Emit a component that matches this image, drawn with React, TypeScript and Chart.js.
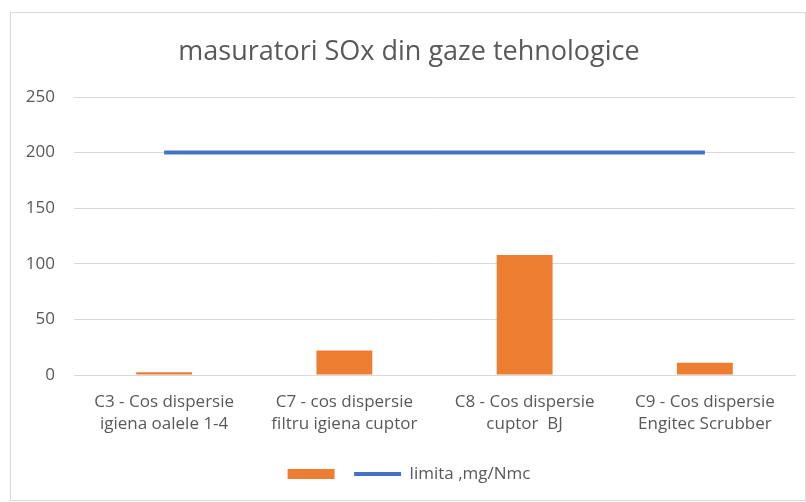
import React, { useEffect, useRef } from "react";
import { Chart, registerables } from "chart.js";

Chart.register(...registerables);

const categories: string[][] = [
  ["C3 - Cos dispersie", "igiena oalele 1-4"],
  ["C7 - cos dispersie", "filtru igiena cuptor"],
  ["C8 - Cos dispersie", "cuptor  BJ"],
  ["C9 - Cos dispersie", "Engitec Scrubber"],
];
const measuredValues: number[] = [2.5, 22, 108, 11];
const limitValues: number[] = [200, 200, 200, 200];
const measuredLabel = "";
const limitLabel = "limita ,mg/Nmc";
const titleText = "masuratori SOx din gaze tehnologice";

const ORANGE = "#ED7D31";
const BLUE = "#4472C4";
const TEXT = "#595959";
const GRID = "#d9d9d9";
const FONT = "'Open Sans', sans-serif";

export default function App() {
  const ref = useRef<HTMLCanvasElement | null>(null);

  useEffect(() => {
    if (!ref.current) return;
    const chart = new Chart(ref.current, {
      type: "bar",
      data: {
        labels: categories,
        datasets: [
          {
            type: "bar",
            label: measuredLabel,
            data: measuredValues,
            backgroundColor: ORANGE,
            borderWidth: 0,
            categoryPercentage: 0.5,
            barPercentage: 0.62,
          },
          {
            type: "line",
            label: limitLabel,
            data: limitValues,
            borderColor: BLUE,
            backgroundColor: BLUE,
            borderWidth: 4,
            pointRadius: 0,
            fill: false,
          },
        ] as any,
      },
      options: {
        animation: false,
        responsive: false,
        maintainAspectRatio: false,
        layout: { padding: { left: 12, right: 10, top: 0, bottom: 7.5 } },
        plugins: {
          title: {
            display: true,
            text: titleText,
            color: TEXT,
            font: { family: FONT, size: 27, weight: "normal", lineHeight: 1.2 },
            padding: { top: 22.8, bottom: 28.8 },
          },
          legend: {
            position: "bottom",
            labels: {
              color: TEXT,
              font: { family: FONT, size: 17 },
              usePointStyle: true,
              pointStyleWidth: 47,
              boxHeight: 10,
              padding: 11,
              generateLabels: (c: any) => {
                const ds = c.data.datasets;
                return [
                  {
                    text: ds[0].label,
                    fillStyle: ORANGE,
                    strokeStyle: ORANGE,
                    lineWidth: 0,
                    pointStyle: "rect",
                    datasetIndex: 0,
                    hidden: false,
                    fontColor: TEXT,
                  },
                  {
                    text: ds[1].label,
                    fillStyle: BLUE,
                    strokeStyle: BLUE,
                    lineWidth: 4,
                    pointStyle: "line",
                    datasetIndex: 1,
                    hidden: false,
                    fontColor: TEXT,
                  },
                ];
              },
            },
          },
          tooltip: { enabled: false },
        },
        scales: {
          x: {
            grid: { display: false, drawTicks: false },
            border: { display: true, color: GRID, width: 1 },
            ticks: {
              color: TEXT,
              padding: 16,
              maxRotation: 0,
              autoSkip: false,
              font: { family: FONT, size: 17, lineHeight: 1.3 },
            },
            afterFit: (s: any) => {
              s.height = 79.5;
            },
          },
          y: {
            min: 0,
            max: 250,
            ticks: {
              stepSize: 50,
              color: TEXT,
              padding: 19,
              font: { family: FONT, size: 17 },
            },
            grid: { color: GRID, lineWidth: 1, drawTicks: false },
            border: { display: false },
            afterFit: (s: any) => {
              s.width = 51;
            },
          },
        },
      } as any,
    });
    return () => chart.destroy();
  }, []);

  return (
    <div
      style={{
        position: "absolute",
        left: 10,
        top: 12,
        width: 796,
        height: 489,
        border: `1px solid ${GRID}`,
        boxSizing: "border-box",
        background: "#fff",
      }}
    >
      <canvas ref={ref} width={794} height={487} style={{ display: "block" }} />
    </div>
  );
}
